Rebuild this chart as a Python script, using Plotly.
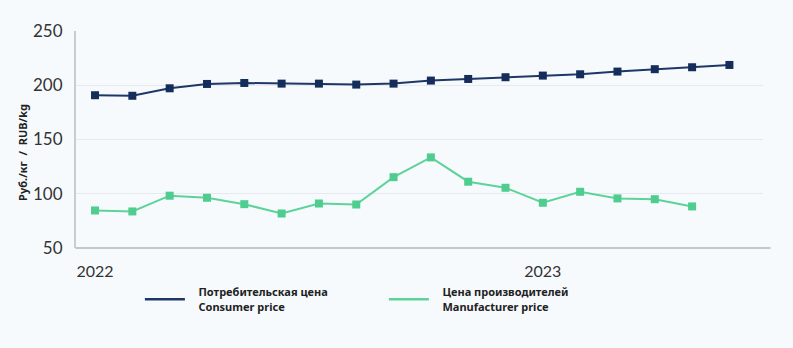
import plotly.graph_objects as go

months = ["2022-01", "2022-02", "2022-03", "2022-04", "2022-05", "2022-06",
          "2022-07", "2022-08", "2022-09", "2022-10", "2022-11", "2022-12",
          "2023-01", "2023-02", "2023-03", "2023-04", "2023-05", "2023-06"]
consumer = [190.8, 190.3, 197.2, 201.2, 202.1, 201.5, 201.5, 200.6, 201.5,
            204.3, 205.8, 207.4, 208.9, 210.1, 212.6, 214.8, 216.6, 218.7]
manufacturer = [84.6, 83.7, 98.2, 96.3, 90.4, 81.8, 91.0, 90.1, 115.3,
                133.5, 111.1, 105.5, 91.7, 101.8, 95.7, 95.0, 88.3]
tick_vals = ["2022-01", "2023-01"]
tick_text = ["2022", "2023"]
pad = "\u00a0\u00a0\u00a0"
name_consumer = pad + "Потребительская цена<br>" + pad + "Consumer price"
name_manuf = pad + "Цена производителей<br>" + pad + "Manufacturer price"
y_title = "Руб./кг\u00a0\u00a0/\u00a0\u00a0RUB/kg"

navy = "#1d3768"
navy_m = "#142d5a"
green = "#5dd39a"
green_m = "#4fcd8e"

fig = go.Figure()
fig.add_trace(go.Scatter(x=months, y=consumer, mode="lines+markers",
                         line=dict(color=navy, width=2),
                         marker=dict(symbol="square", size=8, color=navy_m),
                         showlegend=False))
fig.add_trace(go.Scatter(x=months[:len(manufacturer)], y=manufacturer, mode="lines+markers",
                         line=dict(color=green, width=2),
                         marker=dict(symbol="square", size=8, color=green_m),
                         showlegend=False))
# legend entries (line only)
fig.add_trace(go.Scatter(x=[None], y=[None], mode="lines", name=name_consumer,
                         line=dict(color=navy, width=2.5)))
fig.add_trace(go.Scatter(x=[None], y=[None], mode="lines", name=name_manuf,
                         line=dict(color=green, width=2.5)))

bg = "#f7fafd"
fig.update_layout(
    width=793, height=348,
    margin=dict(l=76, r=30, t=31, b=100, autoexpand=False),
    paper_bgcolor=bg, plot_bgcolor=bg,
    font=dict(family="Lato, Noto Sans, sans-serif", color="#333333"),
    legend=dict(orientation="h", x=0.093, xanchor="left", y=-0.14, yanchor="top",
                font=dict(family="Noto Sans", size=11, color="#222222", weight="bold"),
                entrywidth=189, entrywidthmode="pixels", bgcolor="rgba(0,0,0,0)",
                itemwidth=40, traceorder="normal"),
    shapes=[dict(type="line", xref="paper", yref="paper", x0=-0.001, x1=1.011, y0=0, y1=0,
                 line=dict(color="#c3c7cc", width=2))],
    annotations=[dict(text=y_title, textangle=-90, xref="paper", yref="paper",
                      x=-0.078, y=0.44, xanchor="center", yanchor="middle", showarrow=False,
                      font=dict(family="Noto Sans", size=11, color="#222222", weight="bold"))],
)
fig.update_xaxes(type="category", categoryorder="array", categoryarray=months,
                 range=[-0.51, 17.9], tickvals=tick_vals, ticktext=tick_text,
                 showgrid=False, showline=False, zeroline=False, ticks="",
                 tickfont=dict(size=16, color="#333333"), ticklabelstandoff=12)
fig.update_yaxes(range=[50, 250], tickvals=[50, 100, 150, 200, 250],
                 showgrid=True, gridcolor="#e6eaee", gridwidth=1,
                 showline=True, linecolor="#c8ccd1", linewidth=2, zeroline=False,
                 ticks="", tickfont=dict(size=17, color="#333333"), ticklabelstandoff=8)

fig.write_html("out.html", config={"displayModeBar": False},
               post_script="document.body.style.margin='0';document.body.style.background='#f7fafd';")
